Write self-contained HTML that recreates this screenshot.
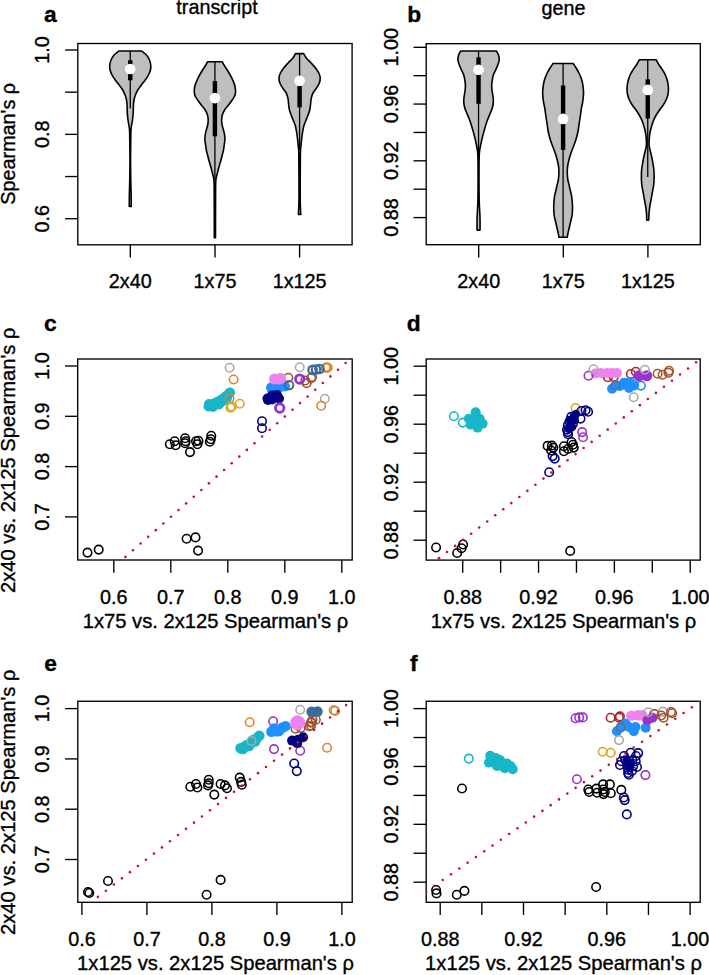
<!DOCTYPE html>
<html><head><meta charset="utf-8"><style>
html,body{margin:0;padding:0;background:#fff;width:709px;height:975px;overflow:hidden}
svg{display:block;font-family:"Liberation Sans", sans-serif}
text{stroke:#000;stroke-width:0.35px}
</style></head><body>
<svg width="709" height="975" viewBox="0 0 709 975">
<rect x="77.8" y="43.5" width="274.30" height="201.30" fill="none" stroke="#000" stroke-width="1.35"/>
<line x1="65.10" y1="50.00" x2="77.80" y2="50.00" stroke="#000" stroke-width="1.35"/>
<line x1="65.10" y1="92.18" x2="77.80" y2="92.18" stroke="#000" stroke-width="1.35"/>
<line x1="65.10" y1="134.36" x2="77.80" y2="134.36" stroke="#000" stroke-width="1.35"/>
<line x1="65.10" y1="176.54" x2="77.80" y2="176.54" stroke="#000" stroke-width="1.35"/>
<line x1="65.10" y1="218.72" x2="77.80" y2="218.72" stroke="#000" stroke-width="1.35"/>
<text transform="translate(48.70,50.00) rotate(-90)" text-anchor="middle" font-size="19.8">1.0</text>
<text transform="translate(48.70,134.36) rotate(-90)" text-anchor="middle" font-size="19.8">0.8</text>
<text transform="translate(48.70,218.72) rotate(-90)" text-anchor="middle" font-size="19.8">0.6</text>
<line x1="130.30" y1="244.80" x2="130.30" y2="257.50" stroke="#000" stroke-width="1.35"/>
<line x1="215.00" y1="244.80" x2="215.00" y2="257.50" stroke="#000" stroke-width="1.35"/>
<line x1="299.60" y1="244.80" x2="299.60" y2="257.50" stroke="#000" stroke-width="1.35"/>
<text x="130.30" y="288.30" text-anchor="middle" font-size="19.8">2x40</text>
<text x="215.00" y="288.30" text-anchor="middle" font-size="19.8">1x75</text>
<text x="299.60" y="288.30" text-anchor="middle" font-size="19.8">1x125</text>
<text x="217" y="14.4" text-anchor="middle" font-size="19.8">transcript</text>
<text x="50.3" y="22.4" text-anchor="middle" font-size="22.8" font-weight="bold">a</text>
<text transform="translate(15,143.8) rotate(-90)" text-anchor="middle" font-size="19.8">Spearman's ρ</text>
<path d="M141.75,51.00 C142.53,51.67 145.17,53.50 146.45,55.00 C147.73,56.50 148.73,58.33 149.45,60.00 C150.17,61.67 150.58,63.33 150.75,65.00 C150.92,66.67 150.83,68.33 150.45,70.00 C150.07,71.67 149.32,73.33 148.45,75.00 C147.58,76.67 146.43,78.33 145.25,80.00 C144.07,81.67 142.60,83.33 141.35,85.00 C140.10,86.67 138.73,88.33 137.75,90.00 C136.77,91.67 136.08,93.33 135.45,95.00 C134.82,96.67 134.28,98.33 133.95,100.00 C133.62,101.67 133.56,103.33 133.45,105.00 C133.34,106.67 133.37,108.33 133.30,110.00 C133.23,111.67 133.18,113.33 133.05,115.00 C132.92,116.67 132.73,118.33 132.50,120.00 C132.27,121.67 131.91,123.33 131.65,125.00 C131.39,126.67 131.10,127.50 130.95,130.00 C130.80,132.50 130.82,135.00 130.75,140.00 C130.68,145.00 130.55,153.33 130.55,160.00 C130.55,166.67 130.65,174.17 130.75,180.00 C130.85,185.83 131.07,190.60 131.15,195.00 C131.23,199.40 131.23,204.50 131.25,206.40 L129.25,206.40 C129.27,204.50 129.27,199.40 129.35,195.00 C129.43,190.60 129.65,185.83 129.75,180.00 C129.85,174.17 129.95,166.67 129.95,160.00 C129.95,153.33 129.82,145.00 129.75,140.00 C129.68,135.00 129.70,132.50 129.55,130.00 C129.40,127.50 129.11,126.67 128.85,125.00 C128.59,123.33 128.23,121.67 128.00,120.00 C127.77,118.33 127.58,116.67 127.45,115.00 C127.32,113.33 127.27,111.67 127.20,110.00 C127.13,108.33 127.16,106.67 127.05,105.00 C126.94,103.33 126.88,101.67 126.55,100.00 C126.22,98.33 125.68,96.67 125.05,95.00 C124.42,93.33 123.73,91.67 122.75,90.00 C121.77,88.33 120.40,86.67 119.15,85.00 C117.90,83.33 116.43,81.67 115.25,80.00 C114.07,78.33 112.92,76.67 112.05,75.00 C111.18,73.33 110.43,71.67 110.05,70.00 C109.67,68.33 109.58,66.67 109.75,65.00 C109.92,63.33 110.33,61.67 111.05,60.00 C111.77,58.33 112.77,56.50 114.05,55.00 C115.33,53.50 117.97,51.67 118.75,51.00 Z" fill="#BEBEBE" stroke="#000" stroke-width="1.6" stroke-linejoin="round"/>
<line x1="130.25" y1="51" x2="130.25" y2="108.6" stroke="#000" stroke-width="1.3"/>
<rect x="128.05" y="60.2" width="4.4" height="20.10" fill="#000"/>
<circle cx="130.25" cy="69.0" r="5.3" fill="#fff"/>
<path d="M222.30,61.80 C222.58,62.33 223.18,63.63 224.00,65.00 C224.82,66.37 226.22,68.33 227.25,70.00 C228.28,71.67 229.29,73.33 230.20,75.00 C231.11,76.67 231.96,78.33 232.70,80.00 C233.44,81.67 234.18,83.33 234.65,85.00 C235.12,86.67 235.39,88.50 235.50,90.00 C235.61,91.50 235.53,92.83 235.30,94.00 C235.07,95.17 234.62,96.00 234.10,97.00 C233.58,98.00 233.13,98.67 232.20,100.00 C231.27,101.33 229.77,103.33 228.50,105.00 C227.23,106.67 225.63,108.33 224.60,110.00 C223.57,111.67 222.80,113.33 222.30,115.00 C221.80,116.67 221.63,118.33 221.60,120.00 C221.57,121.67 221.78,123.33 222.10,125.00 C222.42,126.67 223.08,128.33 223.50,130.00 C223.92,131.67 224.37,133.33 224.60,135.00 C224.83,136.67 224.97,138.33 224.90,140.00 C224.83,141.67 224.43,143.33 224.20,145.00 C223.97,146.67 223.82,148.33 223.50,150.00 C223.18,151.67 222.67,153.33 222.25,155.00 C221.83,156.67 221.45,158.33 221.00,160.00 C220.55,161.67 220.03,163.33 219.55,165.00 C219.08,166.67 218.59,168.33 218.15,170.00 C217.71,171.67 217.28,173.33 216.90,175.00 C216.53,176.67 216.12,177.50 215.90,180.00 C215.68,182.50 215.67,180.38 215.60,190.00 C215.53,199.62 215.52,229.75 215.50,237.70 L214.30,237.70 C214.28,229.75 214.27,199.62 214.20,190.00 C214.13,180.38 214.12,182.50 213.90,180.00 C213.68,177.50 213.28,176.67 212.90,175.00 C212.53,173.33 212.09,171.67 211.65,170.00 C211.21,168.33 210.72,166.67 210.25,165.00 C209.78,163.33 209.25,161.67 208.80,160.00 C208.35,158.33 207.97,156.67 207.55,155.00 C207.13,153.33 206.62,151.67 206.30,150.00 C205.98,148.33 205.83,146.67 205.60,145.00 C205.37,143.33 204.97,141.67 204.90,140.00 C204.83,138.33 204.97,136.67 205.20,135.00 C205.43,133.33 205.88,131.67 206.30,130.00 C206.72,128.33 207.38,126.67 207.70,125.00 C208.02,123.33 208.23,121.67 208.20,120.00 C208.17,118.33 208.00,116.67 207.50,115.00 C207.00,113.33 206.23,111.67 205.20,110.00 C204.17,108.33 202.57,106.67 201.30,105.00 C200.03,103.33 198.53,101.33 197.60,100.00 C196.67,98.67 196.22,98.00 195.70,97.00 C195.18,96.00 194.73,95.17 194.50,94.00 C194.27,92.83 194.19,91.50 194.30,90.00 C194.41,88.50 194.68,86.67 195.15,85.00 C195.62,83.33 196.36,81.67 197.10,80.00 C197.84,78.33 198.69,76.67 199.60,75.00 C200.51,73.33 201.52,71.67 202.55,70.00 C203.58,68.33 204.98,66.37 205.80,65.00 C206.62,63.63 207.22,62.33 207.50,61.80 Z" fill="#BEBEBE" stroke="#000" stroke-width="1.6" stroke-linejoin="round"/>
<line x1="214.9" y1="61.8" x2="214.9" y2="180" stroke="#000" stroke-width="1.3"/>
<rect x="212.70" y="81.1" width="4.4" height="55.20" fill="#000"/>
<circle cx="214.9" cy="98.1" r="5.3" fill="#fff"/>
<path d="M303.65,53.60 C304.09,54.33 305.06,56.43 306.30,58.00 C307.54,59.57 309.57,61.33 311.10,63.00 C312.63,64.67 314.22,66.33 315.50,68.00 C316.78,69.67 318.02,71.33 318.80,73.00 C319.58,74.67 320.11,76.33 320.20,78.00 C320.29,79.67 319.97,81.33 319.35,83.00 C318.73,84.67 317.56,86.33 316.50,88.00 C315.44,89.67 313.82,91.50 313.00,93.00 C312.18,94.50 311.93,95.83 311.60,97.00 C311.27,98.17 311.18,98.67 311.00,100.00 C310.82,101.33 310.71,103.33 310.50,105.00 C310.29,106.67 310.16,108.33 309.75,110.00 C309.34,111.67 308.66,113.33 308.05,115.00 C307.44,116.67 306.76,118.33 306.10,120.00 C305.44,121.67 304.62,123.33 304.10,125.00 C303.58,126.67 303.28,128.33 302.95,130.00 C302.63,131.67 302.38,133.33 302.15,135.00 C301.92,136.67 301.73,138.33 301.55,140.00 C301.38,141.67 301.29,142.57 301.10,145.00 C300.91,147.43 300.55,145.77 300.40,154.60 C300.25,163.43 300.13,188.02 300.20,198.00 C300.27,207.98 300.70,211.75 300.80,214.50 L298.40,214.50 C298.50,211.75 298.93,207.98 299.00,198.00 C299.07,188.02 298.95,163.43 298.80,154.60 C298.65,145.77 298.29,147.43 298.10,145.00 C297.91,142.57 297.83,141.67 297.65,140.00 C297.48,138.33 297.28,136.67 297.05,135.00 C296.82,133.33 296.57,131.67 296.25,130.00 C295.93,128.33 295.62,126.67 295.10,125.00 C294.58,123.33 293.76,121.67 293.10,120.00 C292.44,118.33 291.76,116.67 291.15,115.00 C290.54,113.33 289.86,111.67 289.45,110.00 C289.04,108.33 288.91,106.67 288.70,105.00 C288.49,103.33 288.38,101.33 288.20,100.00 C288.02,98.67 287.93,98.17 287.60,97.00 C287.27,95.83 287.02,94.50 286.20,93.00 C285.38,91.50 283.76,89.67 282.70,88.00 C281.64,86.33 280.47,84.67 279.85,83.00 C279.23,81.33 278.91,79.67 279.00,78.00 C279.09,76.33 279.62,74.67 280.40,73.00 C281.18,71.33 282.42,69.67 283.70,68.00 C284.98,66.33 286.57,64.67 288.10,63.00 C289.63,61.33 291.66,59.57 292.90,58.00 C294.14,56.43 295.11,54.33 295.55,53.60 Z" fill="#BEBEBE" stroke="#000" stroke-width="1.6" stroke-linejoin="round"/>
<line x1="299.6" y1="53.6" x2="299.6" y2="150" stroke="#000" stroke-width="1.3"/>
<rect x="297.40" y="86.1" width="4.4" height="21.30" fill="#000"/>
<circle cx="299.6" cy="80.8" r="5.3" fill="#fff"/>
<rect x="426.2" y="43.7" width="274.10" height="201.00" fill="none" stroke="#000" stroke-width="1.35"/>
<line x1="413.50" y1="47.30" x2="426.20" y2="47.30" stroke="#000" stroke-width="1.35"/>
<line x1="413.50" y1="75.68" x2="426.20" y2="75.68" stroke="#000" stroke-width="1.35"/>
<line x1="413.50" y1="104.06" x2="426.20" y2="104.06" stroke="#000" stroke-width="1.35"/>
<line x1="413.50" y1="132.44" x2="426.20" y2="132.44" stroke="#000" stroke-width="1.35"/>
<line x1="413.50" y1="160.82" x2="426.20" y2="160.82" stroke="#000" stroke-width="1.35"/>
<line x1="413.50" y1="189.20" x2="426.20" y2="189.20" stroke="#000" stroke-width="1.35"/>
<line x1="413.50" y1="217.58" x2="426.20" y2="217.58" stroke="#000" stroke-width="1.35"/>
<text transform="translate(398.40,47.30) rotate(-90)" text-anchor="middle" font-size="19.8">1.00</text>
<text transform="translate(398.40,104.06) rotate(-90)" text-anchor="middle" font-size="19.8">0.96</text>
<text transform="translate(398.40,160.82) rotate(-90)" text-anchor="middle" font-size="19.8">0.92</text>
<text transform="translate(398.40,217.58) rotate(-90)" text-anchor="middle" font-size="19.8">0.88</text>
<line x1="478.70" y1="244.70" x2="478.70" y2="257.40" stroke="#000" stroke-width="1.35"/>
<line x1="563.30" y1="244.70" x2="563.30" y2="257.40" stroke="#000" stroke-width="1.35"/>
<line x1="647.90" y1="244.70" x2="647.90" y2="257.40" stroke="#000" stroke-width="1.35"/>
<text x="478.70" y="288.30" text-anchor="middle" font-size="19.8">2x40</text>
<text x="563.30" y="288.30" text-anchor="middle" font-size="19.8">1x75</text>
<text x="647.90" y="288.30" text-anchor="middle" font-size="19.8">1x125</text>
<text x="563.5" y="14.6" text-anchor="middle" font-size="19.8">gene</text>
<text x="414.3" y="22.4" text-anchor="middle" font-size="22.8" font-weight="bold">b</text>
<path d="M496.35,51.00 C496.71,51.67 498.02,53.50 498.50,55.00 C498.98,56.50 499.32,58.33 499.20,60.00 C499.07,61.67 498.34,63.33 497.75,65.00 C497.16,66.67 496.38,68.33 495.65,70.00 C494.92,71.67 493.91,73.33 493.35,75.00 C492.79,76.67 492.58,78.33 492.30,80.00 C492.02,81.67 491.76,83.33 491.70,85.00 C491.64,86.67 491.77,88.33 491.95,90.00 C492.12,91.67 492.52,93.33 492.75,95.00 C492.98,96.67 493.31,98.33 493.35,100.00 C493.39,101.67 493.29,103.33 493.00,105.00 C492.71,106.67 492.18,108.33 491.60,110.00 C491.02,111.67 490.18,113.33 489.50,115.00 C488.82,116.67 488.12,118.33 487.50,120.00 C486.88,121.67 486.32,123.33 485.80,125.00 C485.28,126.67 484.83,128.33 484.35,130.00 C483.88,131.67 483.38,133.33 482.95,135.00 C482.52,136.67 482.13,138.33 481.75,140.00 C481.37,141.67 480.98,143.33 480.65,145.00 C480.32,146.67 479.98,148.33 479.75,150.00 C479.52,151.67 479.37,152.50 479.25,155.00 C479.13,157.50 479.08,159.17 479.05,165.00 C479.02,170.83 479.00,183.33 479.05,190.00 C479.10,196.67 479.23,201.33 479.35,205.00 C479.47,208.67 479.63,209.50 479.75,212.00 C479.87,214.50 480.00,216.98 480.05,220.00 C480.10,223.02 480.05,228.42 480.05,230.10 L477.05,230.10 C477.05,228.42 477.00,223.02 477.05,220.00 C477.10,216.98 477.23,214.50 477.35,212.00 C477.47,209.50 477.63,208.67 477.75,205.00 C477.87,201.33 478.00,196.67 478.05,190.00 C478.10,183.33 478.08,170.83 478.05,165.00 C478.02,159.17 477.97,157.50 477.85,155.00 C477.73,152.50 477.58,151.67 477.35,150.00 C477.12,148.33 476.78,146.67 476.45,145.00 C476.12,143.33 475.73,141.67 475.35,140.00 C474.97,138.33 474.58,136.67 474.15,135.00 C473.72,133.33 473.23,131.67 472.75,130.00 C472.27,128.33 471.82,126.67 471.30,125.00 C470.78,123.33 470.22,121.67 469.60,120.00 C468.98,118.33 468.28,116.67 467.60,115.00 C466.92,113.33 466.08,111.67 465.50,110.00 C464.92,108.33 464.39,106.67 464.10,105.00 C463.81,103.33 463.71,101.67 463.75,100.00 C463.79,98.33 464.12,96.67 464.35,95.00 C464.58,93.33 464.98,91.67 465.15,90.00 C465.33,88.33 465.46,86.67 465.40,85.00 C465.34,83.33 465.08,81.67 464.80,80.00 C464.52,78.33 464.31,76.67 463.75,75.00 C463.19,73.33 462.18,71.67 461.45,70.00 C460.72,68.33 459.94,66.67 459.35,65.00 C458.76,63.33 458.03,61.67 457.90,60.00 C457.78,58.33 458.12,56.50 458.60,55.00 C459.08,53.50 460.39,51.67 460.75,51.00 Z" fill="#BEBEBE" stroke="#000" stroke-width="1.6" stroke-linejoin="round"/>
<line x1="478.55" y1="51" x2="478.55" y2="165" stroke="#000" stroke-width="1.3"/>
<rect x="476.35" y="57.3" width="4.4" height="46.50" fill="#000"/>
<circle cx="478.55" cy="69.7" r="5.3" fill="#fff"/>
<path d="M573.15,63.50 C573.65,64.25 575.18,66.42 576.15,68.00 C577.12,69.58 578.12,71.33 578.95,73.00 C579.78,74.67 580.51,76.33 581.10,78.00 C581.69,79.67 582.15,81.33 582.50,83.00 C582.85,84.67 583.03,86.33 583.20,88.00 C583.38,89.67 583.55,91.33 583.55,93.00 C583.55,94.67 583.38,96.33 583.20,98.00 C583.03,99.67 582.79,101.33 582.50,103.00 C582.21,104.67 581.74,106.33 581.45,108.00 C581.16,109.67 580.98,111.33 580.75,113.00 C580.52,114.67 580.35,116.00 580.05,118.00 C579.75,120.00 579.25,123.00 578.95,125.00 C578.65,127.00 578.54,128.33 578.25,130.00 C577.96,131.67 577.61,133.33 577.20,135.00 C576.79,136.67 576.33,138.33 575.80,140.00 C575.28,141.67 574.67,143.33 574.05,145.00 C573.43,146.67 572.72,148.33 572.10,150.00 C571.48,151.67 570.88,153.33 570.35,155.00 C569.83,156.67 569.37,158.33 568.95,160.00 C568.53,161.67 568.12,163.33 567.85,165.00 C567.58,166.67 567.38,168.33 567.30,170.00 C567.23,171.67 567.30,173.33 567.40,175.00 C567.50,176.67 567.62,178.33 567.90,180.00 C568.18,181.67 568.72,183.33 569.10,185.00 C569.48,186.67 569.82,188.33 570.20,190.00 C570.58,191.67 571.08,193.33 571.40,195.00 C571.72,196.67 571.92,197.92 572.10,200.00 C572.28,202.08 572.50,205.00 572.50,207.50 C572.50,210.00 572.35,212.92 572.10,215.00 C571.85,217.08 571.38,218.33 571.00,220.00 C570.62,221.67 570.23,223.33 569.85,225.00 C569.47,226.67 569.08,228.33 568.70,230.00 C568.33,231.67 567.83,233.78 567.60,235.00 C567.37,236.22 567.35,236.92 567.30,237.30 L558.90,237.30 C558.85,236.92 558.83,236.22 558.60,235.00 C558.37,233.78 557.88,231.67 557.50,230.00 C557.12,228.33 556.73,226.67 556.35,225.00 C555.97,223.33 555.58,221.67 555.20,220.00 C554.83,218.33 554.35,217.08 554.10,215.00 C553.85,212.92 553.70,210.00 553.70,207.50 C553.70,205.00 553.92,202.08 554.10,200.00 C554.28,197.92 554.48,196.67 554.80,195.00 C555.12,193.33 555.62,191.67 556.00,190.00 C556.38,188.33 556.72,186.67 557.10,185.00 C557.48,183.33 558.02,181.67 558.30,180.00 C558.58,178.33 558.70,176.67 558.80,175.00 C558.90,173.33 558.98,171.67 558.90,170.00 C558.82,168.33 558.62,166.67 558.35,165.00 C558.08,163.33 557.67,161.67 557.25,160.00 C556.83,158.33 556.38,156.67 555.85,155.00 C555.33,153.33 554.72,151.67 554.10,150.00 C553.48,148.33 552.77,146.67 552.15,145.00 C551.53,143.33 550.92,141.67 550.40,140.00 C549.88,138.33 549.41,136.67 549.00,135.00 C548.59,133.33 548.24,131.67 547.95,130.00 C547.66,128.33 547.55,127.00 547.25,125.00 C546.95,123.00 546.45,120.00 546.15,118.00 C545.85,116.00 545.68,114.67 545.45,113.00 C545.22,111.33 545.04,109.67 544.75,108.00 C544.46,106.33 543.99,104.67 543.70,103.00 C543.41,101.33 543.17,99.67 543.00,98.00 C542.83,96.33 542.65,94.67 542.65,93.00 C542.65,91.33 542.83,89.67 543.00,88.00 C543.17,86.33 543.35,84.67 543.70,83.00 C544.05,81.33 544.51,79.67 545.10,78.00 C545.69,76.33 546.42,74.67 547.25,73.00 C548.08,71.33 549.08,69.58 550.05,68.00 C551.02,66.42 552.55,64.25 553.05,63.50 Z" fill="#BEBEBE" stroke="#000" stroke-width="1.6" stroke-linejoin="round"/>
<line x1="563.1" y1="63.5" x2="563.1" y2="237.3" stroke="#000" stroke-width="1.3"/>
<rect x="560.90" y="85.5" width="4.4" height="64.40" fill="#000"/>
<circle cx="563.1" cy="118.9" r="5.3" fill="#fff"/>
<path d="M656.20,59.80 C656.68,60.67 657.99,63.30 659.05,65.00 C660.11,66.70 661.49,68.33 662.55,70.00 C663.61,71.67 664.63,73.33 665.40,75.00 C666.17,76.67 666.68,78.33 667.15,80.00 C667.62,81.67 667.98,83.33 668.20,85.00 C668.42,86.67 668.51,88.33 668.45,90.00 C668.39,91.67 668.24,93.33 667.85,95.00 C667.46,96.67 666.87,98.33 666.10,100.00 C665.33,101.67 664.34,103.33 663.25,105.00 C662.16,106.67 660.72,108.33 659.55,110.00 C658.38,111.67 657.22,113.33 656.25,115.00 C655.28,116.67 654.47,118.33 653.75,120.00 C653.03,121.67 652.48,123.33 651.95,125.00 C651.42,126.67 650.93,128.33 650.55,130.00 C650.17,131.67 649.88,133.33 649.65,135.00 C649.42,136.67 649.29,138.33 649.20,140.00 C649.11,141.67 648.96,143.33 649.10,145.00 C649.24,146.67 649.69,148.33 650.05,150.00 C650.41,151.67 650.87,153.33 651.25,155.00 C651.63,156.67 652.03,158.33 652.35,160.00 C652.67,161.67 652.89,163.33 653.15,165.00 C653.41,166.67 653.74,168.33 653.90,170.00 C654.06,171.67 654.08,173.33 654.10,175.00 C654.12,176.67 654.12,178.33 654.05,180.00 C653.98,181.67 653.91,183.33 653.70,185.00 C653.49,186.67 653.10,188.33 652.80,190.00 C652.50,191.67 652.20,193.33 651.90,195.00 C651.60,196.67 651.31,198.33 651.00,200.00 C650.69,201.67 650.32,203.33 650.05,205.00 C649.77,206.67 649.54,208.33 649.35,210.00 C649.16,211.67 649.00,213.32 648.90,215.00 C648.80,216.68 648.77,219.25 648.75,220.10 L646.75,220.10 C646.73,219.25 646.70,216.68 646.60,215.00 C646.50,213.32 646.34,211.67 646.15,210.00 C645.96,208.33 645.73,206.67 645.45,205.00 C645.18,203.33 644.81,201.67 644.50,200.00 C644.19,198.33 643.90,196.67 643.60,195.00 C643.30,193.33 643.00,191.67 642.70,190.00 C642.40,188.33 642.01,186.67 641.80,185.00 C641.59,183.33 641.52,181.67 641.45,180.00 C641.38,178.33 641.38,176.67 641.40,175.00 C641.42,173.33 641.44,171.67 641.60,170.00 C641.76,168.33 642.09,166.67 642.35,165.00 C642.61,163.33 642.83,161.67 643.15,160.00 C643.47,158.33 643.87,156.67 644.25,155.00 C644.63,153.33 645.09,151.67 645.45,150.00 C645.81,148.33 646.26,146.67 646.40,145.00 C646.54,143.33 646.39,141.67 646.30,140.00 C646.21,138.33 646.08,136.67 645.85,135.00 C645.62,133.33 645.33,131.67 644.95,130.00 C644.57,128.33 644.08,126.67 643.55,125.00 C643.02,123.33 642.47,121.67 641.75,120.00 C641.03,118.33 640.22,116.67 639.25,115.00 C638.28,113.33 637.12,111.67 635.95,110.00 C634.78,108.33 633.34,106.67 632.25,105.00 C631.16,103.33 630.17,101.67 629.40,100.00 C628.63,98.33 628.04,96.67 627.65,95.00 C627.26,93.33 627.11,91.67 627.05,90.00 C626.99,88.33 627.08,86.67 627.30,85.00 C627.52,83.33 627.88,81.67 628.35,80.00 C628.82,78.33 629.33,76.67 630.10,75.00 C630.87,73.33 631.89,71.67 632.95,70.00 C634.01,68.33 635.39,66.70 636.45,65.00 C637.51,63.30 638.82,60.67 639.30,59.80 Z" fill="#BEBEBE" stroke="#000" stroke-width="1.6" stroke-linejoin="round"/>
<line x1="647.75" y1="59.8" x2="647.75" y2="177" stroke="#000" stroke-width="1.3"/>
<rect x="645.55" y="79.3" width="4.4" height="39.20" fill="#000"/>
<circle cx="647.75" cy="89.9" r="5.3" fill="#fff"/>
<rect x="77.7" y="359" width="274.50" height="201.00" fill="none" stroke="#000" stroke-width="1.35"/>
<line x1="65.00" y1="366.00" x2="77.70" y2="366.00" stroke="#000" stroke-width="1.35"/>
<line x1="65.00" y1="416.30" x2="77.70" y2="416.30" stroke="#000" stroke-width="1.35"/>
<line x1="65.00" y1="466.60" x2="77.70" y2="466.60" stroke="#000" stroke-width="1.35"/>
<line x1="65.00" y1="516.90" x2="77.70" y2="516.90" stroke="#000" stroke-width="1.35"/>
<text transform="translate(48.70,366.00) rotate(-90)" text-anchor="middle" font-size="19.8">1.0</text>
<text transform="translate(48.70,416.30) rotate(-90)" text-anchor="middle" font-size="19.8">0.9</text>
<text transform="translate(48.70,466.60) rotate(-90)" text-anchor="middle" font-size="19.8">0.8</text>
<text transform="translate(48.70,516.90) rotate(-90)" text-anchor="middle" font-size="19.8">0.7</text>
<line x1="113.80" y1="560.00" x2="113.80" y2="572.70" stroke="#000" stroke-width="1.35"/>
<line x1="170.80" y1="560.00" x2="170.80" y2="572.70" stroke="#000" stroke-width="1.35"/>
<line x1="227.80" y1="560.00" x2="227.80" y2="572.70" stroke="#000" stroke-width="1.35"/>
<line x1="284.80" y1="560.00" x2="284.80" y2="572.70" stroke="#000" stroke-width="1.35"/>
<line x1="341.80" y1="560.00" x2="341.80" y2="572.70" stroke="#000" stroke-width="1.35"/>
<text x="113.80" y="604.30" text-anchor="middle" font-size="19.8">0.6</text>
<text x="170.80" y="604.30" text-anchor="middle" font-size="19.8">0.7</text>
<text x="227.80" y="604.30" text-anchor="middle" font-size="19.8">0.8</text>
<text x="284.80" y="604.30" text-anchor="middle" font-size="19.8">0.9</text>
<text x="341.80" y="604.30" text-anchor="middle" font-size="19.8">1.0</text>
<text x="50.4" y="331.3" text-anchor="middle" font-size="22.8" font-weight="bold">c</text>
<text x="215.5" y="628.3" text-anchor="middle" font-size="20.2">1x75 vs. 2x125 Spearman's ρ</text>
<text transform="translate(14.7,460.3) rotate(-90)" text-anchor="middle" font-size="20.2">2x40 vs. 2x125 Spearman's ρ</text>
<rect x="426.2" y="359" width="274.00" height="201.10" fill="none" stroke="#000" stroke-width="1.35"/>
<line x1="413.50" y1="366.20" x2="426.20" y2="366.20" stroke="#000" stroke-width="1.35"/>
<line x1="413.50" y1="395.20" x2="426.20" y2="395.20" stroke="#000" stroke-width="1.35"/>
<line x1="413.50" y1="424.20" x2="426.20" y2="424.20" stroke="#000" stroke-width="1.35"/>
<line x1="413.50" y1="453.20" x2="426.20" y2="453.20" stroke="#000" stroke-width="1.35"/>
<line x1="413.50" y1="482.20" x2="426.20" y2="482.20" stroke="#000" stroke-width="1.35"/>
<line x1="413.50" y1="511.20" x2="426.20" y2="511.20" stroke="#000" stroke-width="1.35"/>
<line x1="413.50" y1="540.20" x2="426.20" y2="540.20" stroke="#000" stroke-width="1.35"/>
<text transform="translate(398.40,366.20) rotate(-90)" text-anchor="middle" font-size="19.8">1.00</text>
<text transform="translate(398.40,424.20) rotate(-90)" text-anchor="middle" font-size="19.8">0.96</text>
<text transform="translate(398.40,482.20) rotate(-90)" text-anchor="middle" font-size="19.8">0.92</text>
<text transform="translate(398.40,540.20) rotate(-90)" text-anchor="middle" font-size="19.8">0.88</text>
<line x1="462.70" y1="560.10" x2="462.70" y2="572.80" stroke="#000" stroke-width="1.35"/>
<line x1="500.62" y1="560.10" x2="500.62" y2="572.80" stroke="#000" stroke-width="1.35"/>
<line x1="538.54" y1="560.10" x2="538.54" y2="572.80" stroke="#000" stroke-width="1.35"/>
<line x1="576.46" y1="560.10" x2="576.46" y2="572.80" stroke="#000" stroke-width="1.35"/>
<line x1="614.38" y1="560.10" x2="614.38" y2="572.80" stroke="#000" stroke-width="1.35"/>
<line x1="652.30" y1="560.10" x2="652.30" y2="572.80" stroke="#000" stroke-width="1.35"/>
<line x1="690.22" y1="560.10" x2="690.22" y2="572.80" stroke="#000" stroke-width="1.35"/>
<text x="462.70" y="604.30" text-anchor="middle" font-size="19.8">0.88</text>
<text x="538.54" y="604.30" text-anchor="middle" font-size="19.8">0.92</text>
<text x="614.38" y="604.30" text-anchor="middle" font-size="19.8">0.96</text>
<text x="690.22" y="604.30" text-anchor="middle" font-size="19.8">1.00</text>
<text x="413.7" y="331.3" text-anchor="middle" font-size="22.8" font-weight="bold">d</text>
<text x="563.5" y="628.3" text-anchor="middle" font-size="20.2">1x75 vs. 2x125 Spearman's ρ</text>
<rect x="77.8" y="701.25" width="274.40" height="201.05" fill="none" stroke="#000" stroke-width="1.35"/>
<line x1="65.10" y1="708.60" x2="77.80" y2="708.60" stroke="#000" stroke-width="1.35"/>
<line x1="65.10" y1="758.90" x2="77.80" y2="758.90" stroke="#000" stroke-width="1.35"/>
<line x1="65.10" y1="809.20" x2="77.80" y2="809.20" stroke="#000" stroke-width="1.35"/>
<line x1="65.10" y1="859.50" x2="77.80" y2="859.50" stroke="#000" stroke-width="1.35"/>
<text transform="translate(48.70,708.60) rotate(-90)" text-anchor="middle" font-size="19.8">1.0</text>
<text transform="translate(48.70,758.90) rotate(-90)" text-anchor="middle" font-size="19.8">0.9</text>
<text transform="translate(48.70,809.20) rotate(-90)" text-anchor="middle" font-size="19.8">0.8</text>
<text transform="translate(48.70,859.50) rotate(-90)" text-anchor="middle" font-size="19.8">0.7</text>
<line x1="81.90" y1="902.30" x2="81.90" y2="915.00" stroke="#000" stroke-width="1.35"/>
<line x1="146.90" y1="902.30" x2="146.90" y2="915.00" stroke="#000" stroke-width="1.35"/>
<line x1="211.90" y1="902.30" x2="211.90" y2="915.00" stroke="#000" stroke-width="1.35"/>
<line x1="276.90" y1="902.30" x2="276.90" y2="915.00" stroke="#000" stroke-width="1.35"/>
<line x1="341.90" y1="902.30" x2="341.90" y2="915.00" stroke="#000" stroke-width="1.35"/>
<text x="81.90" y="946.20" text-anchor="middle" font-size="19.8">0.6</text>
<text x="146.90" y="946.20" text-anchor="middle" font-size="19.8">0.7</text>
<text x="211.90" y="946.20" text-anchor="middle" font-size="19.8">0.8</text>
<text x="276.90" y="946.20" text-anchor="middle" font-size="19.8">0.9</text>
<text x="341.90" y="946.20" text-anchor="middle" font-size="19.8">1.0</text>
<text x="50.6" y="671.4" text-anchor="middle" font-size="22.8" font-weight="bold">e</text>
<text x="215.5" y="970.1" text-anchor="middle" font-size="20.2">1x125 vs. 2x125 Spearman's ρ</text>
<text transform="translate(14.7,802.3) rotate(-90)" text-anchor="middle" font-size="20.2">2x40 vs. 2x125 Spearman's ρ</text>
<rect x="426.2" y="701.25" width="274.00" height="201.05" fill="none" stroke="#000" stroke-width="1.35"/>
<line x1="413.50" y1="708.60" x2="426.20" y2="708.60" stroke="#000" stroke-width="1.35"/>
<line x1="413.50" y1="737.53" x2="426.20" y2="737.53" stroke="#000" stroke-width="1.35"/>
<line x1="413.50" y1="766.46" x2="426.20" y2="766.46" stroke="#000" stroke-width="1.35"/>
<line x1="413.50" y1="795.39" x2="426.20" y2="795.39" stroke="#000" stroke-width="1.35"/>
<line x1="413.50" y1="824.32" x2="426.20" y2="824.32" stroke="#000" stroke-width="1.35"/>
<line x1="413.50" y1="853.25" x2="426.20" y2="853.25" stroke="#000" stroke-width="1.35"/>
<line x1="413.50" y1="882.18" x2="426.20" y2="882.18" stroke="#000" stroke-width="1.35"/>
<text transform="translate(398.40,708.60) rotate(-90)" text-anchor="middle" font-size="19.8">1.00</text>
<text transform="translate(398.40,766.46) rotate(-90)" text-anchor="middle" font-size="19.8">0.96</text>
<text transform="translate(398.40,824.32) rotate(-90)" text-anchor="middle" font-size="19.8">0.92</text>
<text transform="translate(398.40,882.18) rotate(-90)" text-anchor="middle" font-size="19.8">0.88</text>
<line x1="440.20" y1="902.30" x2="440.20" y2="915.00" stroke="#000" stroke-width="1.35"/>
<line x1="481.85" y1="902.30" x2="481.85" y2="915.00" stroke="#000" stroke-width="1.35"/>
<line x1="523.50" y1="902.30" x2="523.50" y2="915.00" stroke="#000" stroke-width="1.35"/>
<line x1="565.15" y1="902.30" x2="565.15" y2="915.00" stroke="#000" stroke-width="1.35"/>
<line x1="606.80" y1="902.30" x2="606.80" y2="915.00" stroke="#000" stroke-width="1.35"/>
<line x1="648.45" y1="902.30" x2="648.45" y2="915.00" stroke="#000" stroke-width="1.35"/>
<line x1="690.10" y1="902.30" x2="690.10" y2="915.00" stroke="#000" stroke-width="1.35"/>
<text x="440.20" y="946.20" text-anchor="middle" font-size="19.8">0.88</text>
<text x="523.50" y="946.20" text-anchor="middle" font-size="19.8">0.92</text>
<text x="606.80" y="946.20" text-anchor="middle" font-size="19.8">0.96</text>
<text x="690.10" y="946.20" text-anchor="middle" font-size="19.8">1.00</text>
<text x="413.7" y="671.4" text-anchor="middle" font-size="22.8" font-weight="bold">f</text>
<text x="563.5" y="970.1" text-anchor="middle" font-size="20.2">1x125 vs. 2x125 Spearman's ρ</text>
<g>
<circle cx="169.80" cy="444.20" r="4.25" fill="none" stroke="#000000" stroke-width="1.6"/>
<circle cx="174.70" cy="441.20" r="4.25" fill="none" stroke="#000000" stroke-width="1.6"/>
<circle cx="175.70" cy="445.20" r="4.25" fill="none" stroke="#000000" stroke-width="1.6"/>
<circle cx="185.10" cy="438.30" r="4.25" fill="none" stroke="#000000" stroke-width="1.6"/>
<circle cx="185.60" cy="441.20" r="4.25" fill="none" stroke="#000000" stroke-width="1.6"/>
<circle cx="185.10" cy="443.20" r="4.25" fill="none" stroke="#000000" stroke-width="1.6"/>
<circle cx="190.00" cy="452.10" r="4.25" fill="none" stroke="#000000" stroke-width="1.6"/>
<circle cx="196.00" cy="441.20" r="4.25" fill="none" stroke="#000000" stroke-width="1.6"/>
<circle cx="197.40" cy="444.20" r="4.25" fill="none" stroke="#000000" stroke-width="1.6"/>
<circle cx="198.40" cy="440.70" r="4.25" fill="none" stroke="#000000" stroke-width="1.6"/>
<circle cx="211.30" cy="435.80" r="4.25" fill="none" stroke="#000000" stroke-width="1.6"/>
<circle cx="210.80" cy="439.20" r="4.25" fill="none" stroke="#000000" stroke-width="1.6"/>
<circle cx="209.80" cy="441.70" r="4.25" fill="none" stroke="#000000" stroke-width="1.6"/>
<circle cx="87.50" cy="552.60" r="4.25" fill="none" stroke="#000000" stroke-width="1.6"/>
<circle cx="98.70" cy="549.60" r="4.25" fill="none" stroke="#000000" stroke-width="1.6"/>
<circle cx="186.60" cy="538.80" r="4.25" fill="none" stroke="#000000" stroke-width="1.6"/>
<circle cx="195.50" cy="537.40" r="4.25" fill="none" stroke="#000000" stroke-width="1.6"/>
<circle cx="198.10" cy="550.60" r="4.25" fill="none" stroke="#000000" stroke-width="1.6"/>
<circle cx="208.50" cy="406.50" r="5.0" fill="#17B6C8"/>
<circle cx="211.00" cy="405.00" r="5.0" fill="#17B6C8"/>
<circle cx="214.00" cy="403.50" r="5.0" fill="#17B6C8"/>
<circle cx="217.00" cy="402.00" r="5.0" fill="#17B6C8"/>
<circle cx="220.00" cy="400.50" r="5.0" fill="#17B6C8"/>
<circle cx="223.00" cy="398.50" r="5.0" fill="#17B6C8"/>
<circle cx="226.00" cy="396.00" r="5.0" fill="#17B6C8"/>
<circle cx="229.00" cy="393.50" r="5.0" fill="#17B6C8"/>
<circle cx="230.00" cy="392.50" r="5.0" fill="#17B6C8"/>
<circle cx="216.00" cy="404.00" r="5.0" fill="#17B6C8"/>
<circle cx="221.00" cy="402.00" r="5.0" fill="#17B6C8"/>
<circle cx="213.00" cy="407.00" r="5.0" fill="#17B6C8"/>
<circle cx="219.00" cy="404.50" r="5.0" fill="#17B6C8"/>
<circle cx="224.00" cy="400.50" r="5.0" fill="#17B6C8"/>
<circle cx="209.00" cy="404.00" r="5.0" fill="#17B6C8"/>
<circle cx="227.00" cy="398.00" r="5.0" fill="#17B6C8"/>
<circle cx="229.60" cy="367.70" r="4.25" fill="none" stroke="#A9A9A9" stroke-width="1.6"/>
<circle cx="233.60" cy="379.50" r="4.25" fill="none" stroke="#E0862A" stroke-width="1.6"/>
<circle cx="229.50" cy="398.40" r="4.25" fill="none" stroke="#CD853F" stroke-width="1.6"/>
<circle cx="231.70" cy="406.60" r="4.25" fill="none" stroke="#DAA520" stroke-width="1.6"/>
<circle cx="239.70" cy="403.80" r="4.25" fill="none" stroke="#DAA520" stroke-width="1.6"/>
<circle cx="230.50" cy="407.80" r="4.25" fill="none" stroke="#DAA520" stroke-width="1.6"/>
<circle cx="288.30" cy="377.70" r="4.25" fill="none" stroke="#A0522D" stroke-width="1.6"/>
<circle cx="305.20" cy="380.50" r="4.25" fill="none" stroke="#A0522D" stroke-width="1.6"/>
<circle cx="306.60" cy="383.20" r="4.25" fill="none" stroke="#A0522D" stroke-width="1.6"/>
<circle cx="311.20" cy="378.20" r="4.25" fill="none" stroke="#A0522D" stroke-width="1.6"/>
<circle cx="312.00" cy="377.00" r="4.25" fill="none" stroke="#A0522D" stroke-width="1.6"/>
<circle cx="271.00" cy="387.50" r="5.0" fill="#1E90FF"/>
<circle cx="276.00" cy="387.50" r="5.0" fill="#1E90FF"/>
<circle cx="281.00" cy="387.00" r="5.0" fill="#1E90FF"/>
<circle cx="285.00" cy="386.50" r="5.0" fill="#1E90FF"/>
<circle cx="272.00" cy="390.00" r="5.0" fill="#1E90FF"/>
<circle cx="274.50" cy="379.00" r="5.5" fill="#EE82EE"/>
<circle cx="279.00" cy="379.00" r="5.5" fill="#EE82EE"/>
<circle cx="280.50" cy="378.50" r="5.5" fill="#EE82EE"/>
<circle cx="267.50" cy="398.50" r="5.0" fill="#000080"/>
<circle cx="272.00" cy="395.50" r="5.0" fill="#000080"/>
<circle cx="277.00" cy="395.00" r="5.0" fill="#000080"/>
<circle cx="279.00" cy="398.50" r="5.0" fill="#000080"/>
<circle cx="272.00" cy="399.50" r="5.0" fill="#000080"/>
<circle cx="268.00" cy="400.00" r="5.0" fill="#000080"/>
<circle cx="262.00" cy="421.30" r="4.25" fill="none" stroke="#000080" stroke-width="1.6"/>
<circle cx="262.00" cy="428.30" r="4.25" fill="none" stroke="#000080" stroke-width="1.6"/>
<circle cx="299.70" cy="379.10" r="4.25" fill="none" stroke="#9932CC" stroke-width="2.8"/>
<circle cx="279.70" cy="408.00" r="4.25" fill="none" stroke="#9932CC" stroke-width="2.8"/>
<circle cx="289.20" cy="385.50" r="4.25" fill="none" stroke="#A0522D" stroke-width="1.6"/>
<circle cx="289.20" cy="385.00" r="4.25" fill="none" stroke="#3A6B9B" stroke-width="1.6"/>
<circle cx="299.70" cy="367.20" r="4.25" fill="none" stroke="#A9A9A9" stroke-width="1.6"/>
<circle cx="324.80" cy="398.70" r="4.25" fill="none" stroke="#A9A9A9" stroke-width="1.6"/>
<circle cx="325.90" cy="367.60" r="4.25" fill="none" stroke="#E0862A" stroke-width="2.0"/>
<circle cx="327.50" cy="367.40" r="4.25" fill="none" stroke="#E0862A" stroke-width="2.0"/>
<circle cx="312.60" cy="369.90" r="4.25" fill="none" stroke="#3A6B9B" stroke-width="2.2"/>
<circle cx="316.00" cy="369.50" r="4.25" fill="none" stroke="#3A6B9B" stroke-width="2.2"/>
<circle cx="319.50" cy="369.00" r="4.25" fill="none" stroke="#3A6B9B" stroke-width="2.2"/>
<circle cx="321.20" cy="405.80" r="4.25" fill="none" stroke="#E0862A" stroke-width="1.6"/>
<clipPath id="clp1"><rect x="77.7" y="359" width="274.50" height="201.00"/></clipPath><g clip-path="url(#clp1)">
<circle cx="125.40" cy="556.90" r="1.3" fill="#C8102E"/>
<circle cx="132.99" cy="550.21" r="1.3" fill="#C8102E"/>
<circle cx="140.59" cy="543.53" r="1.3" fill="#C8102E"/>
<circle cx="148.18" cy="536.84" r="1.3" fill="#C8102E"/>
<circle cx="155.77" cy="530.16" r="1.3" fill="#C8102E"/>
<circle cx="163.37" cy="523.47" r="1.3" fill="#C8102E"/>
<circle cx="170.96" cy="516.78" r="1.3" fill="#C8102E"/>
<circle cx="178.55" cy="510.10" r="1.3" fill="#C8102E"/>
<circle cx="186.14" cy="503.41" r="1.3" fill="#C8102E"/>
<circle cx="193.74" cy="496.73" r="1.3" fill="#C8102E"/>
<circle cx="201.33" cy="490.04" r="1.3" fill="#C8102E"/>
<circle cx="208.92" cy="483.35" r="1.3" fill="#C8102E"/>
<circle cx="216.52" cy="476.67" r="1.3" fill="#C8102E"/>
<circle cx="224.11" cy="469.98" r="1.3" fill="#C8102E"/>
<circle cx="231.70" cy="463.30" r="1.3" fill="#C8102E"/>
<circle cx="239.30" cy="456.61" r="1.3" fill="#C8102E"/>
<circle cx="246.89" cy="449.92" r="1.3" fill="#C8102E"/>
<circle cx="254.48" cy="443.24" r="1.3" fill="#C8102E"/>
<circle cx="262.07" cy="436.55" r="1.3" fill="#C8102E"/>
<circle cx="269.67" cy="429.87" r="1.3" fill="#C8102E"/>
<circle cx="277.26" cy="423.18" r="1.3" fill="#C8102E"/>
<circle cx="284.85" cy="416.49" r="1.3" fill="#C8102E"/>
<circle cx="292.45" cy="409.81" r="1.3" fill="#C8102E"/>
<circle cx="300.04" cy="403.12" r="1.3" fill="#C8102E"/>
<circle cx="307.63" cy="396.44" r="1.3" fill="#C8102E"/>
<circle cx="315.23" cy="389.75" r="1.3" fill="#C8102E"/>
<circle cx="322.82" cy="383.06" r="1.3" fill="#C8102E"/>
<circle cx="330.41" cy="376.38" r="1.3" fill="#C8102E"/>
<circle cx="338.00" cy="369.69" r="1.3" fill="#C8102E"/>
<circle cx="345.60" cy="363.01" r="1.3" fill="#C8102E"/>
</g>
</g>
<circle cx="453.90" cy="416.20" r="4.25" fill="none" stroke="#17B6C8" stroke-width="1.6"/>
<circle cx="462.80" cy="422.60" r="4.25" fill="none" stroke="#17B6C8" stroke-width="1.6"/>
<circle cx="475.70" cy="412.30" r="5.0" fill="#17B6C8"/>
<circle cx="468.80" cy="418.70" r="5.0" fill="#17B6C8"/>
<circle cx="479.60" cy="418.70" r="5.0" fill="#17B6C8"/>
<circle cx="482.60" cy="423.60" r="5.0" fill="#17B6C8"/>
<circle cx="477.60" cy="427.60" r="5.0" fill="#17B6C8"/>
<circle cx="470.70" cy="424.60" r="5.0" fill="#17B6C8"/>
<circle cx="474.00" cy="420.00" r="5.0" fill="#17B6C8"/>
<circle cx="575.50" cy="408.00" r="4.25" fill="none" stroke="#DAA520" stroke-width="1.6"/>
<circle cx="581.40" cy="411.00" r="4.25" fill="none" stroke="#000080" stroke-width="1.6"/>
<circle cx="585.60" cy="410.20" r="4.25" fill="none" stroke="#000080" stroke-width="1.6"/>
<circle cx="588.10" cy="411.80" r="4.25" fill="none" stroke="#000080" stroke-width="1.6"/>
<circle cx="580.50" cy="418.60" r="4.25" fill="none" stroke="#000080" stroke-width="1.6"/>
<circle cx="571.20" cy="416.90" r="4.25" fill="none" stroke="#000080" stroke-width="1.6"/>
<circle cx="569.50" cy="421.20" r="4.25" fill="none" stroke="#000080" stroke-width="1.6"/>
<circle cx="567.80" cy="425.40" r="4.25" fill="none" stroke="#000080" stroke-width="1.6"/>
<circle cx="567.00" cy="429.60" r="4.25" fill="none" stroke="#000080" stroke-width="1.6"/>
<circle cx="567.80" cy="432.10" r="4.25" fill="none" stroke="#000080" stroke-width="1.6"/>
<circle cx="573.80" cy="419.50" r="4.25" fill="none" stroke="#000080" stroke-width="1.6"/>
<circle cx="572.90" cy="423.70" r="4.25" fill="none" stroke="#000080" stroke-width="1.6"/>
<circle cx="568.10" cy="434.20" r="4.25" fill="none" stroke="#000080" stroke-width="1.6"/>
<circle cx="552.60" cy="456.10" r="4.25" fill="none" stroke="#000080" stroke-width="1.6"/>
<circle cx="554.70" cy="458.60" r="4.25" fill="none" stroke="#000080" stroke-width="1.6"/>
<circle cx="549.20" cy="472.20" r="4.25" fill="none" stroke="#000080" stroke-width="1.6"/>
<circle cx="574.00" cy="416.00" r="4.3" fill="#000080"/>
<circle cx="571.00" cy="424.00" r="4.3" fill="#000080"/>
<circle cx="576.00" cy="414.00" r="4.3" fill="#000080"/>
<circle cx="570.00" cy="420.00" r="4.3" fill="#000080"/>
<circle cx="572.00" cy="427.00" r="4.3" fill="#000080"/>
<circle cx="569.00" cy="429.00" r="4.3" fill="#000080"/>
<circle cx="574.50" cy="420.00" r="4.3" fill="#000080"/>
<circle cx="582.20" cy="432.10" r="4.25" fill="none" stroke="#9932CC" stroke-width="1.6"/>
<circle cx="583.10" cy="437.20" r="4.25" fill="none" stroke="#9932CC" stroke-width="1.6"/>
<circle cx="436.10" cy="547.50" r="4.25" fill="none" stroke="#000000" stroke-width="1.6"/>
<circle cx="463.10" cy="544.50" r="4.25" fill="none" stroke="#000000" stroke-width="1.6"/>
<circle cx="461.50" cy="548.30" r="4.25" fill="none" stroke="#000000" stroke-width="1.6"/>
<circle cx="457.20" cy="553.00" r="4.25" fill="none" stroke="#000000" stroke-width="1.6"/>
<circle cx="570.20" cy="550.90" r="4.25" fill="none" stroke="#000000" stroke-width="1.6"/>
<circle cx="547.60" cy="445.90" r="4.25" fill="none" stroke="#000000" stroke-width="1.6"/>
<circle cx="551.90" cy="445.50" r="4.25" fill="none" stroke="#000000" stroke-width="1.6"/>
<circle cx="553.30" cy="447.60" r="4.25" fill="none" stroke="#000000" stroke-width="1.6"/>
<circle cx="551.20" cy="450.50" r="4.25" fill="none" stroke="#000000" stroke-width="1.6"/>
<circle cx="563.90" cy="446.20" r="4.25" fill="none" stroke="#000000" stroke-width="1.6"/>
<circle cx="563.90" cy="451.20" r="4.25" fill="none" stroke="#000000" stroke-width="1.6"/>
<circle cx="568.10" cy="449.00" r="4.25" fill="none" stroke="#000000" stroke-width="1.6"/>
<circle cx="571.60" cy="442.00" r="4.25" fill="none" stroke="#000000" stroke-width="1.6"/>
<circle cx="573.70" cy="447.60" r="4.25" fill="none" stroke="#000000" stroke-width="1.6"/>
<circle cx="573.00" cy="444.80" r="4.25" fill="none" stroke="#000000" stroke-width="1.6"/>
<circle cx="607.90" cy="377.30" r="4.25" fill="none" stroke="#B22222" stroke-width="1.6"/>
<circle cx="613.80" cy="376.90" r="4.25" fill="none" stroke="#B22222" stroke-width="1.6"/>
<circle cx="630.80" cy="374.00" r="4.25" fill="none" stroke="#B22222" stroke-width="1.6"/>
<circle cx="635.80" cy="371.80" r="4.25" fill="none" stroke="#B22222" stroke-width="1.6"/>
<circle cx="612.10" cy="388.80" r="5.0" fill="#1E90FF"/>
<circle cx="616.40" cy="385.40" r="5.0" fill="#1E90FF"/>
<circle cx="624.00" cy="382.80" r="5.0" fill="#1E90FF"/>
<circle cx="630.00" cy="382.00" r="5.0" fill="#1E90FF"/>
<circle cx="634.10" cy="385.40" r="5.0" fill="#1E90FF"/>
<circle cx="629.00" cy="388.00" r="5.0" fill="#1E90FF"/>
<circle cx="620.00" cy="386.00" r="5.0" fill="#1E90FF"/>
<circle cx="640.90" cy="385.60" r="4.25" fill="none" stroke="#1E90FF" stroke-width="1.6"/>
<circle cx="615.50" cy="385.40" r="4.25" fill="none" stroke="#6A6E72" stroke-width="1.6"/>
<circle cx="595.50" cy="373.50" r="5.0" fill="#EE82EE"/>
<circle cx="601.00" cy="373.00" r="5.0" fill="#EE82EE"/>
<circle cx="607.00" cy="373.00" r="5.0" fill="#EE82EE"/>
<circle cx="612.00" cy="373.00" r="5.0" fill="#EE82EE"/>
<circle cx="617.00" cy="373.00" r="5.0" fill="#EE82EE"/>
<circle cx="588.50" cy="375.70" r="4.25" fill="none" stroke="#9932CC" stroke-width="1.6"/>
<circle cx="638.90" cy="375.80" r="5.5" fill="#9932CC"/>
<circle cx="646.80" cy="375.80" r="5.5" fill="#9932CC"/>
<circle cx="593.50" cy="369.30" r="4.25" fill="none" stroke="#A9A9A9" stroke-width="1.6"/>
<circle cx="644.80" cy="369.80" r="4.25" fill="none" stroke="#A9A9A9" stroke-width="1.6"/>
<circle cx="633.70" cy="397.20" r="4.25" fill="none" stroke="#A9A9A9" stroke-width="1.6"/>
<circle cx="657.60" cy="373.80" r="4.25" fill="none" stroke="#A0522D" stroke-width="1.6"/>
<circle cx="662.60" cy="374.80" r="4.25" fill="none" stroke="#A0522D" stroke-width="1.6"/>
<circle cx="669.00" cy="370.80" r="4.25" fill="none" stroke="#A0522D" stroke-width="1.6"/>
<circle cx="668.50" cy="372.80" r="4.25" fill="none" stroke="#A0522D" stroke-width="1.6"/>
<clipPath id="clp2"><rect x="426.2" y="359" width="274.00" height="201.10"/></clipPath><g clip-path="url(#clp2)">
<circle cx="439.00" cy="558.16" r="1.3" fill="#C8102E"/>
<circle cx="447.03" cy="552.04" r="1.3" fill="#C8102E"/>
<circle cx="455.07" cy="545.92" r="1.3" fill="#C8102E"/>
<circle cx="463.10" cy="539.80" r="1.3" fill="#C8102E"/>
<circle cx="471.13" cy="533.68" r="1.3" fill="#C8102E"/>
<circle cx="479.17" cy="527.56" r="1.3" fill="#C8102E"/>
<circle cx="487.20" cy="521.44" r="1.3" fill="#C8102E"/>
<circle cx="495.24" cy="515.32" r="1.3" fill="#C8102E"/>
<circle cx="503.27" cy="509.20" r="1.3" fill="#C8102E"/>
<circle cx="511.30" cy="503.08" r="1.3" fill="#C8102E"/>
<circle cx="519.34" cy="496.96" r="1.3" fill="#C8102E"/>
<circle cx="527.37" cy="490.84" r="1.3" fill="#C8102E"/>
<circle cx="535.41" cy="484.72" r="1.3" fill="#C8102E"/>
<circle cx="543.44" cy="478.60" r="1.3" fill="#C8102E"/>
<circle cx="551.47" cy="472.48" r="1.3" fill="#C8102E"/>
<circle cx="559.51" cy="466.36" r="1.3" fill="#C8102E"/>
<circle cx="567.54" cy="460.24" r="1.3" fill="#C8102E"/>
<circle cx="575.58" cy="454.12" r="1.3" fill="#C8102E"/>
<circle cx="583.61" cy="448.00" r="1.3" fill="#C8102E"/>
<circle cx="591.64" cy="441.88" r="1.3" fill="#C8102E"/>
<circle cx="599.68" cy="435.76" r="1.3" fill="#C8102E"/>
<circle cx="607.71" cy="429.64" r="1.3" fill="#C8102E"/>
<circle cx="615.75" cy="423.52" r="1.3" fill="#C8102E"/>
<circle cx="623.78" cy="417.40" r="1.3" fill="#C8102E"/>
<circle cx="631.81" cy="411.28" r="1.3" fill="#C8102E"/>
<circle cx="639.85" cy="405.16" r="1.3" fill="#C8102E"/>
<circle cx="647.88" cy="399.04" r="1.3" fill="#C8102E"/>
<circle cx="655.92" cy="392.92" r="1.3" fill="#C8102E"/>
<circle cx="663.95" cy="386.80" r="1.3" fill="#C8102E"/>
<circle cx="671.98" cy="380.68" r="1.3" fill="#C8102E"/>
<circle cx="680.02" cy="374.56" r="1.3" fill="#C8102E"/>
<circle cx="688.05" cy="368.44" r="1.3" fill="#C8102E"/>
<circle cx="696.09" cy="362.32" r="1.3" fill="#C8102E"/>
</g>
<circle cx="190.30" cy="786.80" r="4.25" fill="none" stroke="#000000" stroke-width="1.6"/>
<circle cx="196.00" cy="784.00" r="4.25" fill="none" stroke="#000000" stroke-width="1.6"/>
<circle cx="197.40" cy="787.50" r="4.25" fill="none" stroke="#000000" stroke-width="1.6"/>
<circle cx="208.70" cy="779.70" r="4.25" fill="none" stroke="#000000" stroke-width="1.6"/>
<circle cx="208.70" cy="783.30" r="4.25" fill="none" stroke="#000000" stroke-width="1.6"/>
<circle cx="208.00" cy="785.40" r="4.25" fill="none" stroke="#000000" stroke-width="1.6"/>
<circle cx="214.30" cy="794.60" r="4.25" fill="none" stroke="#000000" stroke-width="1.6"/>
<circle cx="220.60" cy="784.00" r="4.25" fill="none" stroke="#000000" stroke-width="1.6"/>
<circle cx="224.90" cy="785.40" r="4.25" fill="none" stroke="#000000" stroke-width="1.6"/>
<circle cx="227.00" cy="788.20" r="4.25" fill="none" stroke="#000000" stroke-width="1.6"/>
<circle cx="239.70" cy="777.60" r="4.25" fill="none" stroke="#000000" stroke-width="1.6"/>
<circle cx="241.10" cy="781.90" r="4.25" fill="none" stroke="#000000" stroke-width="1.6"/>
<circle cx="241.80" cy="784.70" r="4.25" fill="none" stroke="#000000" stroke-width="1.6"/>
<circle cx="88.00" cy="892.00" r="4.25" fill="none" stroke="#000000" stroke-width="1.6"/>
<circle cx="89.30" cy="893.00" r="4.25" fill="none" stroke="#000000" stroke-width="1.6"/>
<circle cx="108.00" cy="881.00" r="4.25" fill="none" stroke="#000000" stroke-width="1.6"/>
<circle cx="206.60" cy="894.70" r="4.25" fill="none" stroke="#000000" stroke-width="1.6"/>
<circle cx="220.60" cy="879.90" r="4.25" fill="none" stroke="#000000" stroke-width="1.6"/>
<circle cx="240.50" cy="748.30" r="5.3" fill="#17B6C8"/>
<circle cx="244.70" cy="746.50" r="5.3" fill="#17B6C8"/>
<circle cx="251.40" cy="742.60" r="5.3" fill="#17B6C8"/>
<circle cx="256.50" cy="738.60" r="5.3" fill="#17B6C8"/>
<circle cx="259.30" cy="735.80" r="5.3" fill="#17B6C8"/>
<circle cx="247.00" cy="745.00" r="5.3" fill="#17B6C8"/>
<circle cx="243.00" cy="749.00" r="5.3" fill="#17B6C8"/>
<circle cx="249.00" cy="746.00" r="5.3" fill="#17B6C8"/>
<circle cx="255.00" cy="741.50" r="5.3" fill="#17B6C8"/>
<circle cx="253.00" cy="740.00" r="5.3" fill="#17B6C8"/>
<circle cx="251.40" cy="740.90" r="4.25" fill="none" stroke="#A9A9A9" stroke-width="1.6"/>
<circle cx="249.70" cy="722.30" r="4.25" fill="none" stroke="#E0862A" stroke-width="1.6"/>
<circle cx="327.10" cy="747.70" r="4.25" fill="none" stroke="#E0862A" stroke-width="1.6"/>
<circle cx="335.20" cy="711.00" r="4.25" fill="none" stroke="#E0862A" stroke-width="1.6"/>
<circle cx="333.70" cy="710.30" r="4.25" fill="none" stroke="#CD853F" stroke-width="1.6"/>
<circle cx="273.10" cy="721.20" r="4.25" fill="none" stroke="#9932CC" stroke-width="1.6"/>
<circle cx="274.00" cy="749.10" r="4.25" fill="none" stroke="#9932CC" stroke-width="1.6"/>
<circle cx="300.20" cy="750.80" r="4.25" fill="none" stroke="#9932CC" stroke-width="1.6"/>
<circle cx="271.40" cy="731.80" r="5.3" fill="#1E90FF"/>
<circle cx="276.90" cy="731.30" r="5.3" fill="#1E90FF"/>
<circle cx="282.00" cy="727.90" r="5.3" fill="#1E90FF"/>
<circle cx="285.40" cy="726.20" r="5.3" fill="#1E90FF"/>
<circle cx="279.00" cy="731.00" r="5.3" fill="#1E90FF"/>
<circle cx="274.00" cy="728.50" r="5.3" fill="#1E90FF"/>
<circle cx="310.80" cy="722.80" r="4.25" fill="none" stroke="#A0522D" stroke-width="1.6"/>
<circle cx="312.50" cy="719.50" r="4.25" fill="none" stroke="#A0522D" stroke-width="1.6"/>
<circle cx="309.10" cy="726.20" r="4.25" fill="none" stroke="#A0522D" stroke-width="1.6"/>
<circle cx="300.60" cy="727.90" r="4.25" fill="none" stroke="#A0522D" stroke-width="1.6"/>
<circle cx="295.50" cy="728.80" r="4.25" fill="none" stroke="#A0522D" stroke-width="1.6"/>
<circle cx="311.70" cy="722.00" r="4.25" fill="none" stroke="#A0522D" stroke-width="1.6"/>
<circle cx="315.80" cy="719.80" r="4.25" fill="none" stroke="#A0522D" stroke-width="1.6"/>
<circle cx="311.00" cy="725.70" r="4.25" fill="none" stroke="#A0522D" stroke-width="1.6"/>
<circle cx="297.70" cy="722.80" r="7.5" fill="#EE82EE"/>
<circle cx="292.10" cy="740.60" r="5.0" fill="#000080"/>
<circle cx="298.00" cy="739.80" r="5.0" fill="#000080"/>
<circle cx="303.10" cy="737.20" r="5.0" fill="#000080"/>
<circle cx="297.20" cy="743.10" r="5.0" fill="#000080"/>
<circle cx="294.20" cy="763.50" r="4.25" fill="none" stroke="#000080" stroke-width="1.6"/>
<circle cx="296.80" cy="771.10" r="4.25" fill="none" stroke="#000080" stroke-width="1.6"/>
<circle cx="300.20" cy="709.70" r="4.25" fill="none" stroke="#A9A9A9" stroke-width="1.6"/>
<circle cx="311.50" cy="711.70" r="5.2" fill="#3A6B9B"/>
<circle cx="317.50" cy="711.50" r="5.2" fill="#3A6B9B"/>
<clipPath id="clp3"><rect x="77.8" y="701.25" width="274.40" height="201.05"/></clipPath><g clip-path="url(#clp3)">
<circle cx="89.89" cy="903.09" r="1.3" fill="#C8102E"/>
<circle cx="97.90" cy="896.90" r="1.3" fill="#C8102E"/>
<circle cx="105.91" cy="890.71" r="1.3" fill="#C8102E"/>
<circle cx="113.91" cy="884.53" r="1.3" fill="#C8102E"/>
<circle cx="121.92" cy="878.34" r="1.3" fill="#C8102E"/>
<circle cx="129.92" cy="872.15" r="1.3" fill="#C8102E"/>
<circle cx="137.93" cy="865.97" r="1.3" fill="#C8102E"/>
<circle cx="145.94" cy="859.78" r="1.3" fill="#C8102E"/>
<circle cx="153.94" cy="853.59" r="1.3" fill="#C8102E"/>
<circle cx="161.95" cy="847.40" r="1.3" fill="#C8102E"/>
<circle cx="169.95" cy="841.22" r="1.3" fill="#C8102E"/>
<circle cx="177.96" cy="835.03" r="1.3" fill="#C8102E"/>
<circle cx="185.97" cy="828.84" r="1.3" fill="#C8102E"/>
<circle cx="193.97" cy="822.66" r="1.3" fill="#C8102E"/>
<circle cx="201.98" cy="816.47" r="1.3" fill="#C8102E"/>
<circle cx="209.98" cy="810.28" r="1.3" fill="#C8102E"/>
<circle cx="217.99" cy="804.10" r="1.3" fill="#C8102E"/>
<circle cx="226.00" cy="797.91" r="1.3" fill="#C8102E"/>
<circle cx="234.00" cy="791.72" r="1.3" fill="#C8102E"/>
<circle cx="242.01" cy="785.53" r="1.3" fill="#C8102E"/>
<circle cx="250.01" cy="779.35" r="1.3" fill="#C8102E"/>
<circle cx="258.02" cy="773.16" r="1.3" fill="#C8102E"/>
<circle cx="266.03" cy="766.97" r="1.3" fill="#C8102E"/>
<circle cx="274.03" cy="760.79" r="1.3" fill="#C8102E"/>
<circle cx="282.04" cy="754.60" r="1.3" fill="#C8102E"/>
<circle cx="290.04" cy="748.41" r="1.3" fill="#C8102E"/>
<circle cx="298.05" cy="742.23" r="1.3" fill="#C8102E"/>
<circle cx="306.06" cy="736.04" r="1.3" fill="#C8102E"/>
<circle cx="314.06" cy="729.85" r="1.3" fill="#C8102E"/>
<circle cx="322.07" cy="723.66" r="1.3" fill="#C8102E"/>
<circle cx="330.07" cy="717.48" r="1.3" fill="#C8102E"/>
<circle cx="338.08" cy="711.29" r="1.3" fill="#C8102E"/>
<circle cx="346.09" cy="705.10" r="1.3" fill="#C8102E"/>
</g>
<circle cx="436.10" cy="890.00" r="4.25" fill="none" stroke="#000000" stroke-width="1.6"/>
<circle cx="436.50" cy="893.40" r="4.25" fill="none" stroke="#000000" stroke-width="1.6"/>
<circle cx="456.80" cy="894.70" r="4.25" fill="none" stroke="#000000" stroke-width="1.6"/>
<circle cx="464.40" cy="890.90" r="4.25" fill="none" stroke="#000000" stroke-width="1.6"/>
<circle cx="596.10" cy="887.00" r="4.25" fill="none" stroke="#000000" stroke-width="1.6"/>
<circle cx="462.00" cy="788.50" r="4.25" fill="none" stroke="#000000" stroke-width="1.6"/>
<circle cx="588.30" cy="789.50" r="4.25" fill="none" stroke="#000000" stroke-width="1.6"/>
<circle cx="589.20" cy="792.00" r="4.25" fill="none" stroke="#000000" stroke-width="1.6"/>
<circle cx="596.40" cy="788.60" r="4.25" fill="none" stroke="#000000" stroke-width="1.6"/>
<circle cx="597.20" cy="792.80" r="4.25" fill="none" stroke="#000000" stroke-width="1.6"/>
<circle cx="603.10" cy="784.40" r="4.25" fill="none" stroke="#000000" stroke-width="1.6"/>
<circle cx="603.10" cy="789.50" r="4.25" fill="none" stroke="#000000" stroke-width="1.6"/>
<circle cx="603.60" cy="794.10" r="4.25" fill="none" stroke="#000000" stroke-width="1.6"/>
<circle cx="609.90" cy="784.40" r="4.25" fill="none" stroke="#000000" stroke-width="1.6"/>
<circle cx="610.80" cy="793.30" r="4.25" fill="none" stroke="#000000" stroke-width="1.6"/>
<circle cx="604.80" cy="792.00" r="4.25" fill="none" stroke="#000000" stroke-width="1.6"/>
<circle cx="621.30" cy="789.90" r="4.25" fill="none" stroke="#000000" stroke-width="1.6"/>
<circle cx="468.80" cy="758.60" r="4.25" fill="none" stroke="#17B6C8" stroke-width="1.6"/>
<circle cx="490.20" cy="755.80" r="5.0" fill="#17B6C8"/>
<circle cx="489.00" cy="762.60" r="5.0" fill="#17B6C8"/>
<circle cx="495.80" cy="758.00" r="5.0" fill="#17B6C8"/>
<circle cx="497.00" cy="766.00" r="5.0" fill="#17B6C8"/>
<circle cx="503.70" cy="763.70" r="5.0" fill="#17B6C8"/>
<circle cx="504.80" cy="768.20" r="5.0" fill="#17B6C8"/>
<circle cx="510.50" cy="766.00" r="5.0" fill="#17B6C8"/>
<circle cx="512.70" cy="769.30" r="5.0" fill="#17B6C8"/>
<circle cx="500.00" cy="760.00" r="5.0" fill="#17B6C8"/>
<circle cx="507.00" cy="763.50" r="5.0" fill="#17B6C8"/>
<circle cx="493.00" cy="761.00" r="5.0" fill="#17B6C8"/>
<circle cx="502.00" cy="766.00" r="5.0" fill="#17B6C8"/>
<circle cx="602.70" cy="751.80" r="4.25" fill="none" stroke="#DAA520" stroke-width="1.6"/>
<circle cx="610.70" cy="752.70" r="4.25" fill="none" stroke="#DAA520" stroke-width="1.6"/>
<circle cx="575.50" cy="718.30" r="4.25" fill="none" stroke="#9932CC" stroke-width="1.6"/>
<circle cx="579.20" cy="717.40" r="4.25" fill="none" stroke="#9932CC" stroke-width="1.6"/>
<circle cx="582.80" cy="717.40" r="4.25" fill="none" stroke="#9932CC" stroke-width="1.6"/>
<circle cx="576.90" cy="779.30" r="4.25" fill="none" stroke="#9932CC" stroke-width="1.6"/>
<circle cx="645.40" cy="775.10" r="4.25" fill="none" stroke="#9932CC" stroke-width="1.6"/>
<circle cx="610.60" cy="717.70" r="4.25" fill="none" stroke="#B22222" stroke-width="1.6"/>
<circle cx="619.00" cy="717.70" r="4.25" fill="none" stroke="#B22222" stroke-width="1.6"/>
<circle cx="619.90" cy="716.40" r="4.25" fill="none" stroke="#B22222" stroke-width="1.6"/>
<circle cx="654.30" cy="714.00" r="4.25" fill="none" stroke="#B22222" stroke-width="1.6"/>
<circle cx="616.90" cy="731.20" r="5.0" fill="#1E90FF"/>
<circle cx="621.20" cy="727.00" r="5.0" fill="#1E90FF"/>
<circle cx="628.80" cy="727.00" r="5.0" fill="#1E90FF"/>
<circle cx="635.50" cy="727.00" r="5.0" fill="#1E90FF"/>
<circle cx="633.80" cy="731.20" r="5.0" fill="#1E90FF"/>
<circle cx="645.70" cy="727.80" r="5.0" fill="#1E90FF"/>
<circle cx="625.40" cy="723.60" r="5.0" fill="#1E90FF"/>
<circle cx="620.70" cy="727.40" r="4.25" fill="none" stroke="#6A6E72" stroke-width="1.6"/>
<circle cx="619.00" cy="740.10" r="4.25" fill="none" stroke="#A9A9A9" stroke-width="1.6"/>
<circle cx="631.30" cy="715.60" r="5.2" fill="#EE82EE"/>
<circle cx="638.10" cy="715.20" r="5.2" fill="#EE82EE"/>
<circle cx="642.30" cy="715.20" r="5.2" fill="#EE82EE"/>
<circle cx="647.40" cy="720.20" r="5.0" fill="#9932CC"/>
<circle cx="652.50" cy="717.70" r="5.0" fill="#9932CC"/>
<circle cx="648.20" cy="712.20" r="4.25" fill="none" stroke="#A9A9A9" stroke-width="1.6"/>
<circle cx="662.80" cy="711.60" r="4.25" fill="none" stroke="#A9A9A9" stroke-width="1.6"/>
<circle cx="661.30" cy="715.50" r="4.25" fill="none" stroke="#A0522D" stroke-width="1.6"/>
<circle cx="663.60" cy="717.80" r="4.25" fill="none" stroke="#A0522D" stroke-width="1.6"/>
<circle cx="672.20" cy="713.20" r="4.25" fill="none" stroke="#A0522D" stroke-width="1.6"/>
<circle cx="671.00" cy="712.00" r="4.25" fill="none" stroke="#A0522D" stroke-width="1.6"/>
<circle cx="630.60" cy="752.70" r="4.25" fill="none" stroke="#000080" stroke-width="1.6"/>
<circle cx="638.20" cy="753.10" r="4.25" fill="none" stroke="#000080" stroke-width="1.6"/>
<circle cx="621.30" cy="761.20" r="4.25" fill="none" stroke="#000080" stroke-width="1.6"/>
<circle cx="625.50" cy="760.30" r="4.25" fill="none" stroke="#000080" stroke-width="1.6"/>
<circle cx="632.30" cy="760.30" r="4.25" fill="none" stroke="#000080" stroke-width="1.6"/>
<circle cx="635.70" cy="761.20" r="4.25" fill="none" stroke="#000080" stroke-width="1.6"/>
<circle cx="627.20" cy="765.40" r="4.25" fill="none" stroke="#000080" stroke-width="1.6"/>
<circle cx="633.10" cy="766.20" r="4.25" fill="none" stroke="#000080" stroke-width="1.6"/>
<circle cx="628.10" cy="769.60" r="4.25" fill="none" stroke="#000080" stroke-width="1.6"/>
<circle cx="628.90" cy="774.70" r="4.25" fill="none" stroke="#000080" stroke-width="1.6"/>
<circle cx="628.10" cy="773.00" r="4.25" fill="none" stroke="#000080" stroke-width="1.6"/>
<circle cx="623.80" cy="797.50" r="4.25" fill="none" stroke="#000080" stroke-width="1.6"/>
<circle cx="624.70" cy="800.10" r="4.25" fill="none" stroke="#000080" stroke-width="1.6"/>
<circle cx="626.80" cy="814.40" r="4.25" fill="none" stroke="#000080" stroke-width="1.6"/>
<circle cx="627.00" cy="760.00" r="4.0" fill="#000080"/>
<circle cx="631.00" cy="763.00" r="4.0" fill="#000080"/>
<circle cx="629.00" cy="768.00" r="4.0" fill="#000080"/>
<circle cx="624.00" cy="756.00" r="4.25" fill="none" stroke="#000080" stroke-width="1.6"/>
<circle cx="636.00" cy="756.00" r="4.25" fill="none" stroke="#000080" stroke-width="1.6"/>
<circle cx="620.00" cy="765.00" r="4.25" fill="none" stroke="#000080" stroke-width="1.6"/>
<circle cx="637.00" cy="767.00" r="4.25" fill="none" stroke="#000080" stroke-width="1.6"/>
<circle cx="632.00" cy="771.00" r="4.25" fill="none" stroke="#000080" stroke-width="1.6"/>
<clipPath id="clp4"><rect x="426.2" y="701.25" width="274.00" height="201.05"/></clipPath><g clip-path="url(#clp4)">
<circle cx="426.09" cy="891.56" r="1.3" fill="#C8102E"/>
<circle cx="434.40" cy="885.80" r="1.3" fill="#C8102E"/>
<circle cx="442.71" cy="880.04" r="1.3" fill="#C8102E"/>
<circle cx="451.01" cy="874.28" r="1.3" fill="#C8102E"/>
<circle cx="459.32" cy="868.52" r="1.3" fill="#C8102E"/>
<circle cx="467.62" cy="862.76" r="1.3" fill="#C8102E"/>
<circle cx="475.93" cy="856.99" r="1.3" fill="#C8102E"/>
<circle cx="484.24" cy="851.23" r="1.3" fill="#C8102E"/>
<circle cx="492.54" cy="845.47" r="1.3" fill="#C8102E"/>
<circle cx="500.85" cy="839.71" r="1.3" fill="#C8102E"/>
<circle cx="509.15" cy="833.95" r="1.3" fill="#C8102E"/>
<circle cx="517.46" cy="828.19" r="1.3" fill="#C8102E"/>
<circle cx="525.77" cy="822.43" r="1.3" fill="#C8102E"/>
<circle cx="534.07" cy="816.67" r="1.3" fill="#C8102E"/>
<circle cx="542.38" cy="810.91" r="1.3" fill="#C8102E"/>
<circle cx="550.68" cy="805.15" r="1.3" fill="#C8102E"/>
<circle cx="558.99" cy="799.38" r="1.3" fill="#C8102E"/>
<circle cx="567.30" cy="793.62" r="1.3" fill="#C8102E"/>
<circle cx="575.60" cy="787.86" r="1.3" fill="#C8102E"/>
<circle cx="583.91" cy="782.10" r="1.3" fill="#C8102E"/>
<circle cx="592.21" cy="776.34" r="1.3" fill="#C8102E"/>
<circle cx="600.52" cy="770.58" r="1.3" fill="#C8102E"/>
<circle cx="608.83" cy="764.82" r="1.3" fill="#C8102E"/>
<circle cx="617.13" cy="759.06" r="1.3" fill="#C8102E"/>
<circle cx="625.44" cy="753.30" r="1.3" fill="#C8102E"/>
<circle cx="633.74" cy="747.54" r="1.3" fill="#C8102E"/>
<circle cx="642.05" cy="741.77" r="1.3" fill="#C8102E"/>
<circle cx="650.36" cy="736.01" r="1.3" fill="#C8102E"/>
<circle cx="658.66" cy="730.25" r="1.3" fill="#C8102E"/>
<circle cx="666.97" cy="724.49" r="1.3" fill="#C8102E"/>
<circle cx="675.27" cy="718.73" r="1.3" fill="#C8102E"/>
<circle cx="683.58" cy="712.97" r="1.3" fill="#C8102E"/>
<circle cx="691.89" cy="707.21" r="1.3" fill="#C8102E"/>
<circle cx="700.19" cy="701.45" r="1.3" fill="#C8102E"/>
</g>
</svg>
</body></html>
